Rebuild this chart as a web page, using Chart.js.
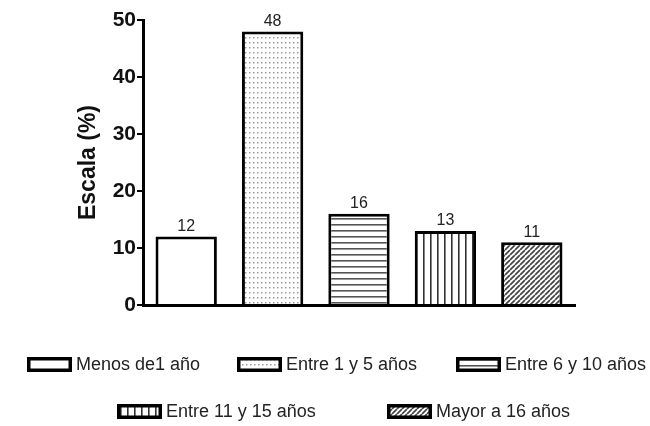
<!DOCTYPE html>
<html>
<head>
<meta charset="utf-8">
<script src="https://cdn.jsdelivr.net/npm/chart.js@4/dist/chart.umd.min.js"></script>
<style>
  html, body { margin: 0; padding: 0; background: #fff; }
  #wrap { position: relative; width: 650px; height: 426px; overflow: hidden; }
  #chart { position: absolute; left: 0; top: 0; }
  .leg { position: absolute; display: flex; align-items: center; font: 18px "Liberation Sans", Arial, sans-serif; color: #222; white-space: nowrap; }
  .leg canvas { margin-right: 4px; }
</style>
</head>
<body>
<div id="wrap">
  <canvas id="chart" width="650" height="426"></canvas>
</div>
<script>
// Antigüedad: porcentaje por grupo
const categories = ['Menos de1 año', 'Entre 1 y 5 años', 'Entre 6 y 10 años', 'Entre 11 y 15 años', 'Mayor a 16 años'];
const values = [12, 48, 16, 13, 11];
const yTicks = [0, 10, 20, 30, 40, 50];
const fills = ['blank', 'dots', 'hlines', 'vlines', 'diag'];

// Relleno con trama para cada barra
function makePattern(kind) {
  const c = document.createElement('canvas');
  const ctx = c.getContext('2d');
  if (kind === 'blank') {
    c.width = c.height = 4;
    ctx.fillStyle = '#fff'; ctx.fillRect(0, 0, 4, 4);
  } else if (kind === 'dots') {
    c.width = 4; c.height = 5;
    ctx.fillStyle = '#fff'; ctx.fillRect(0, 0, 4, 5);
    ctx.fillStyle = '#9a9a9a'; ctx.fillRect(1, 2, 1.5, 1.5);
  } else if (kind === 'hlines') {
    c.width = 6; c.height = 6;
    ctx.fillStyle = '#fff'; ctx.fillRect(0, 0, 6, 6);
    ctx.fillStyle = '#555'; ctx.fillRect(0, 2, 6, 1.6);
  } else if (kind === 'vlines') {
    c.width = 7; c.height = 7;
    ctx.fillStyle = '#fff'; ctx.fillRect(0, 0, 7, 7);
    ctx.fillStyle = '#333'; ctx.fillRect(3, 0, 1.6, 7);
  } else if (kind === 'diag') {
    c.width = c.height = 5;
    ctx.fillStyle = '#fff'; ctx.fillRect(0, 0, 5, 5);
    ctx.strokeStyle = '#444'; ctx.lineWidth = 1.7;
    ctx.beginPath();
    for (let k = -5; k <= 10; k += 5) { ctx.moveTo(k, 5); ctx.lineTo(k + 5, 0); }
    ctx.stroke();
  }
  return ctx.createPattern(c, 'repeat');
}

const patterns = fills.map(makePattern);

// Etiquetas de valor encima de cada barra
const valueLabels = {
  id: 'valueLabels',
  afterDatasetsDraw(chart) {
    const ctx = chart.ctx;
    const meta = chart.getDatasetMeta(0);
    ctx.save();
    ctx.font = '16px "Liberation Sans", Arial, sans-serif';
    ctx.fillStyle = '#222';
    ctx.textAlign = 'center';
    ctx.textBaseline = 'bottom';
    meta.data.forEach((bar, i) => {
      ctx.fillText(String(values[i]), bar.x, bar.y - 2);
    });
    ctx.restore();
  }
};

new Chart(document.getElementById('chart'), {
  type: 'bar',
  data: {
    labels: categories,
    datasets: [{
      data: values,
      backgroundColor: patterns,
      borderColor: '#000',
      borderWidth: 3,
      borderSkipped: 'bottom',
      barPercentage: 0.71,
      categoryPercentage: 1
    }]
  },
  options: {
    responsive: false,
    animation: false,
    devicePixelRatio: 1,
    layout: { padding: { left: 75, top: 20, right: 75, bottom: 121 } },
    plugins: { legend: { display: false }, tooltip: { enabled: false } },
    scales: {
      x: {
        ticks: { display: false },
        grid: { display: false, drawTicks: false },
        border: { display: true, color: '#000', width: 3 },
        afterFit(scale) { scale.height = 0; }
      },
      y: {
        min: 0, max: 50,
        afterBuildTicks(scale) { scale.ticks = yTicks.map(v => ({ value: v })); },
        ticks: {
          color: '#111',
          font: { family: '"Liberation Sans", Arial, sans-serif', size: 21, weight: 'bold' },
          padding: 1
        },
        grid: { drawOnChartArea: false, drawTicks: true, tickLength: 6, color: '#000', lineWidth: 2 },
        border: { display: true, color: '#000', width: 3 },
        title: {
          display: true,
          text: 'Escala (%)',
          color: '#111',
          font: { family: '"Liberation Sans", Arial, sans-serif', size: 23, weight: 'bold' },
          padding: { top: 0, bottom: 4 }
        },
        afterFit(scale) { scale.width = 68; }
      }
    }
  },
  plugins: [valueLabels]
});

// Leyenda en dos filas
const legendPos = [
  [27, 365], [237, 365], [456, 365],
  [117, 412], [387, 412]
];
const wrap = document.getElementById('wrap');
categories.forEach((name, i) => {
  const item = document.createElement('div');
  item.className = 'leg';
  item.style.left = legendPos[i][0] + 'px';
  item.style.top = (legendPos[i][1] - 11) + 'px';
  const sw = document.createElement('canvas');
  sw.width = 45; sw.height = 15;
  const sctx = sw.getContext('2d');
  sctx.fillStyle = makePattern(fills[i]);
  sctx.fillRect(0, 0, 45, 15);
  sctx.lineWidth = 3.5;
  sctx.strokeStyle = '#000';
  sctx.strokeRect(1.75, 1.75, 41.5, 11.5);
  item.appendChild(sw);
  const label = document.createElement('span');
  label.textContent = name;
  item.appendChild(label);
  wrap.appendChild(item);
});
</script>
</body>
</html>
